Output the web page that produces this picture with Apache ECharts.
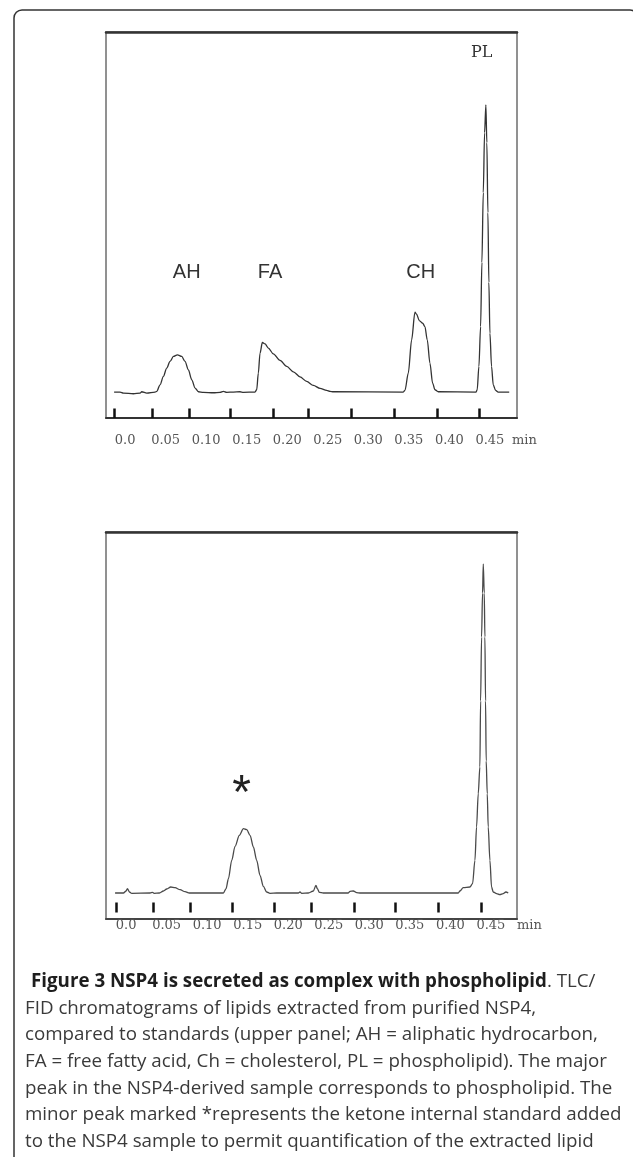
<!DOCTYPE html>
<html><head><meta charset="utf-8">
<script src="https://cdn.jsdelivr.net/npm/echarts@6/dist/echarts.min.js"></script>
<style>html,body{margin:0;padding:0;background:#fff}#c{width:633px;height:1157px}</style>
</head><body><div id="c"></div>
<script>
// ---- data (time in min, detector signal in arbitrary units, baseline = 0) ----
const topTime = [0,0.0074,0.0115,0.0238,0.0321,0.0341,0.0403,0.0505,0.0526,0.0567,0.0608,0.0649,0.0690,0.0732,0.0781,0.0834,0.0875,0.0916,0.0958,0.0999,0.1040,0.1101,0.1225,0.1307,0.1348,0.1389,0.1471,0.1553,0.1595,0.1738,0.1759,0.1779,0.1800,0.1829,0.1862,0.1903,0.1964,0.2047,0.2129,0.2211,0.2293,0.2375,0.2458,0.2540,0.2622,0.2663,0.2704,0.3567,0.3588,0.3629,0.3670,0.3711,0.3732,0.3764,0.3806,0.3834,0.3863,0.3896,0.3929,0.3958,0.3999,0.4463,0.4479,0.4500,0.4521,0.4537,0.4554,0.4570,0.4586,0.4598,0.4611,0.4623,0.4636,0.4656,0.4677,0.4706,0.4738,0.4874];
const topSignal = [0,0,-1,-1.7,-1,0.3,-1,0,0.7,7.3,15.7,24,30.7,35.7,37.3,35.7,30.7,22.3,12.3,4,0.3,-0.3,-0.7,-0.3,0.7,-0.3,0,0.3,-0.3,0,2.3,19,39,49.7,48.3,44,38.3,31.7,25.7,20.3,15.3,10.7,6.7,3.7,1.7,0.7,0.3,0,1.7,19,52.3,80,78,71.7,69,65.7,52.3,29,9,2.3,0.3,0,2.3,25.7,65.7,130,200,260,288,250,180,110,59,25.7,7.3,1.7,0,0];

const bottomTime = [0.0012,0.0115,0.0148,0.0164,0.0189,0.0218,0.0444,0.0473,0.0493,0.0559,0.0608,0.0649,0.0699,0.0752,0.0814,0.0875,0.0929,0.1348,0.1381,0.1410,0.1451,0.1492,0.1545,0.1595,0.1636,0.1677,0.1718,0.1759,0.1800,0.1841,0.1882,0.1923,0.2006,0.2273,0.2293,0.2314,0.2396,0.2458,0.2490,0.2507,0.2532,0.2581,0.2889,0.2910,0.2951,0.2992,0.3033,0.4245,0.4266,0.4307,0.4389,0.4422,0.4451,0.4471,0.4492,0.4512,0.4521,0.4533,0.4545,0.4554,0.4566,0.4574,0.4582,0.4590,0.4603,0.4615,0.4636,0.4656,0.4677,0.4718,0.4759,0.4800,0.4833,0.4862];
const bottomSignal = [0,0,2,4.3,1,-0.3,0,0.7,-0.3,0,2,4,6,5.3,3.3,1.3,0,0,4.3,14.3,32.7,46.7,57.7,64.3,63.3,57.7,46,32.7,17.7,6.7,1,-0.3,0,0,1,-0.3,0,2,7.7,4.3,0.7,0,0,1.7,2,0.3,0,0,2,5.3,6,9.3,32.7,66,99.3,126,192,256,300,329,300,256,192,132,99.3,66,32.7,6,1,-0.7,-1.7,-0.7,1,0];

const topTicks = [0,0.0465,0.0928,0.1430,0.1957,0.2396,0.2922,0.3456,0.3986,0.4500];
const bottomTicks = [0.0021,0.0477,0.0945,0.1459,0.1973,0.2429,0.2959,0.3469,0.3999,0.4533];
const tickValues = [0,0.05,0.10,0.15,0.20,0.25,0.30,0.35,0.40,0.45];
const tickLabels = ['0.0','0.05','0.10','0.15','0.20','0.25','0.30','0.35','0.40','0.45'];
const axisUnit = 'min';

const topPeakLabels = ['AH','FA','CH','PL'];
const bottomPeakLabel = '*';

const captionBold = 'Figure 3 NSP4 is secreted as complex with phospholipid';
const captionLines = [
  '. TLC/',
  'FID chromatograms of lipids extracted from purified NSP4,',
  'compared to standards (upper panel; AH = aliphatic hydrocarbon,',
  'FA = free fatty acid, Ch = cholesterol, PL = phospholipid). The major',
  'peak in the NSP4-derived sample corresponds to phospholipid. The',
  'minor peak marked *represents the ketone internal standard added',
  'to the NSP4 sample to permit quantification of the extracted lipid'
];

// ---- build ----
const zip = (a, b) => a.map((v, i) => [v, b[i]]);
const XMIN = -0.01, XMAX = 0.497, YMIN = -26, YMAX = 361;
const labelFmt = v => {
  const i = tickValues.findIndex(t => Math.abs(t - v) < 1e-6);
  return i >= 0 ? tickLabels[i] : '';
};
const labelStyle = {fontFamily: 'DejaVu Serif', fontSize: 13, color: '#555'};

// caption font size fitted (median ratio) to the reference line widths
const cv = document.createElement('canvas').getContext('2d');
cv.font = '16px "Open Sans"';
const refWidths = [506, 575, 596, 586, 588, 575];
const ratios = refWidths.map((w, i) => w / cv.measureText(captionLines[i + 1]).width).sort((a, b) => a - b);
const capSize = +(16 * (ratios[2] + ratios[3]) / 2).toFixed(2);

const chart = echarts.init(document.getElementById('c'), null, {renderer: 'canvas'});
const graphic = [
  {type: 'rect', shape: {x: 14, y: 10, width: 624, height: 1200, r: 8}, style: {fill: 'none', stroke: '#333', lineWidth: 1.5}, silent: true},
  {type: 'text', x: 186.7, y: 272.7, style: {text: topPeakLabels[0], font: '20px "Liberation Sans"', fill: '#333', align: 'center', verticalAlign: 'middle'}},
  {type: 'text', x: 270, y: 272.7, style: {text: topPeakLabels[1], font: '20px "Liberation Sans"', fill: '#333', align: 'center', verticalAlign: 'middle'}},
  {type: 'text', x: 420.7, y: 272.7, style: {text: topPeakLabels[2], font: '20px "Liberation Sans"', fill: '#333', align: 'center', verticalAlign: 'middle'}},
  {type: 'text', x: 481.8, y: 53, style: {text: topPeakLabels[3], font: '16px "DejaVu Serif"', fill: '#333', align: 'center', verticalAlign: 'middle'}},
  {type: 'text', x: 241.7, y: 795, style: {text: bottomPeakLabel, font: '48px "Liberation Sans"', fill: '#222', align: 'center', verticalAlign: 'middle'}},
  // axis unit beside the last tick label of each panel
  {type: 'text', x: 512, y: 441, style: {text: axisUnit, font: '13px "DejaVu Serif"', fill: '#555', align: 'left', verticalAlign: 'middle'}},
  {type: 'text', x: 517, y: 926, style: {text: axisUnit, font: '13px "DejaVu Serif"', fill: '#555', align: 'left', verticalAlign: 'middle'}}
];
const lineYs = [981.7, 1008.3, 1035, 1061.7, 1088.3, 1115, 1141.7];
graphic.push({type: 'text', x: 31, y: lineYs[0], style: {
  text: '{b|' + captionBold + '}{n|' + captionLines[0] + '}',
  verticalAlign: 'middle',
  rich: {
    b: {fontFamily: 'Open Sans', fontWeight: 'bold', fontSize: capSize, fill: '#1e1e1e', color: '#1e1e1e'},
    n: {fontFamily: 'Open Sans', fontSize: capSize, fill: '#3a3a3a', color: '#3a3a3a'}
  }
}});
for (let i = 1; i < captionLines.length; i++) {
  graphic.push({type: 'text', x: 25, y: lineYs[i], style: {text: captionLines[i], font: capSize + 'px "Open Sans"', fill: '#3a3a3a', verticalAlign: 'middle'}});
}

const baseX = {type: 'value', min: XMIN, max: XMAX, splitLine: {show: false}};
chart.setOption({
  animation: false,
  backgroundColor: '#fff',
  grid: [
    {left: 106, top: 32, width: 411, height: 386, show: true, borderColor: '#6e6e6e', borderWidth: 1.5},
    {left: 106, top: 532, width: 411, height: 387, show: true, borderColor: '#6e6e6e', borderWidth: 1.5}
  ],
  xAxis: [
    Object.assign({}, baseX, {gridIndex: 0, position: 'bottom',
      axisLine: {show: true, onZero: false, lineStyle: {color: '#333', width: 2}},
      axisTick: {show: true, inside: true, length: 9.5, customValues: topTicks, lineStyle: {color: '#111', width: 2.5}},
      axisLabel: Object.assign({customValues: tickValues, formatter: labelFmt, margin: 16, padding: [0, 0, 0, 22]}, labelStyle)
    }),
    Object.assign({}, baseX, {gridIndex: 0, position: 'top',
      axisLine: {show: true, onZero: false, lineStyle: {color: '#333', width: 2.5}}, axisTick: {show: false}, axisLabel: {show: false}}),
    Object.assign({}, baseX, {gridIndex: 1, position: 'bottom', offset: -6.5,
      axisLine: {show: false, onZero: false},
      axisTick: {show: true, inside: true, length: 10, customValues: bottomTicks, lineStyle: {color: '#111', width: 2.5}},
      axisLabel: Object.assign({customValues: tickValues, formatter: labelFmt, margin: 7, padding: [0, 0, 0, 24]}, labelStyle)
    }),
    Object.assign({}, baseX, {gridIndex: 1, position: 'top',
      axisLine: {show: true, onZero: false, lineStyle: {color: '#333', width: 2.5}}, axisTick: {show: false}, axisLabel: {show: false}}),
    Object.assign({}, baseX, {gridIndex: 1, position: 'bottom',
      axisLine: {show: true, onZero: false, lineStyle: {color: '#444', width: 2}}, axisTick: {show: false}, axisLabel: {show: false}})
  ],
  yAxis: [
    {type: 'value', gridIndex: 0, min: YMIN, max: YMAX, show: false},
    {type: 'value', gridIndex: 1, min: YMIN, max: YMAX, show: false}
  ],
  series: [
    {type: 'line', xAxisIndex: 0, yAxisIndex: 0, data: zip(topTime, topSignal), showSymbol: false,
      smooth: 0.3, smoothMonotone: 'x', lineStyle: {color: '#333', width: 1.3}},
    {type: 'line', xAxisIndex: 2, yAxisIndex: 1, data: zip(bottomTime, bottomSignal), showSymbol: false,
      smooth: 0.3, smoothMonotone: 'x', lineStyle: {color: '#4a4a4a', width: 1.3}}
  ],
  graphic: graphic
});
</script></body></html>
